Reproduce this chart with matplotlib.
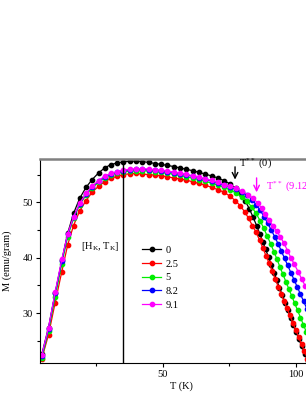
import matplotlib
matplotlib.use("Agg")
import matplotlib.pyplot as plt

plt.rcParams['font.family'] = ['Liberation Serif', 'DejaVu Serif']
plt.rcParams['mathtext.default'] = 'regular'

# temperatures shared by the low/flat part of every curve
t_low = [4.5, 7, 9.5, 12, 14.2, 16.4, 18.7, 21.1, 23.4, 25.8, 28.1, 30.4, 32.8, 35.1, 37.5,
         39.9, 42.2, 44.6, 47.0, 49.3, 51.7, 54.1, 56.4, 58.8, 61.2, 63.5, 65.9, 68.3, 70.6, 73.0]

# H = 0
m0_low = [22.6, 27.4, 33.6, 39.5, 44.4, 48.0, 50.7, 52.7, 54.1, 55.3, 56.2, 56.8, 57.1, 57.3, 57.4,
          57.45, 57.35, 57.2, 57.0, 56.85, 56.65, 56.45, 56.2, 55.95, 55.7, 55.4, 55.1, 54.75, 54.4, 53.9]
t0_high = [75.3, 77.4, 79.3, 81.0, 82.5, 83.9, 85.2, 86.4, 87.5, 88.6, 89.7, 90.7, 91.8, 92.8, 93.8,
           94.9, 95.9, 97.0, 98.0, 99.0, 100.1, 101.1, 102.2, 103.3, 104.4]
m0_high = [53.3, 52.5, 51.5, 50.2, 48.8, 47.3, 45.8, 44.3, 42.9, 41.5, 40.1, 38.7, 37.3, 35.9, 34.6,
           33.2, 31.9, 30.6, 29.2, 27.9, 26.6, 25.3, 24.0, 22.7, 21.4]

# H = 2.5
m1_low = [21.8, 26.1, 31.9, 37.5, 42.3, 45.8, 48.4, 50.3, 51.8, 52.9, 53.7, 54.3, 54.7, 55.0, 55.15,
          55.2, 55.1, 55.0, 54.9, 54.8, 54.6, 54.4, 54.2, 54.0, 53.7, 53.4, 53.1, 52.7, 52.3, 51.8]
t1_high = [75.2, 77.2, 79.0, 80.7, 82.2, 83.6, 85.0, 86.3, 87.5, 88.7, 89.9, 91.1, 92.2, 93.3, 94.4,
           95.5, 96.6, 97.7, 98.8, 99.9, 101.0, 102.1, 103.2, 104.3]
m1_high = [51.1, 50.3, 49.4, 48.3, 47.1, 45.8, 44.6, 43.2, 41.8, 40.4, 39.0, 37.6, 36.2, 34.8, 33.5,
           32.2, 30.9, 29.6, 28.3, 27.0, 25.7, 24.4, 23.1, 21.8]

# H = 5
m2_low = [21.9, 26.8, 32.9, 38.9, 43.8, 47.1, 49.6, 51.3, 52.6, 53.6, 54.4, 54.9, 55.3, 55.5, 55.65,
          55.7, 55.7, 55.65, 55.55, 55.4, 55.25, 55.05, 54.85, 54.6, 54.35, 54.1, 53.8, 53.45, 53.1, 52.7]
t2_high = [75.3, 77.5, 79.6, 81.5, 83.3, 85.0, 86.5, 87.9, 89.2, 90.5, 91.7, 92.9, 94.0, 95.1, 96.2,
           97.3, 98.4, 99.5, 100.6, 101.7, 102.8, 103.9, 105.0]
m2_high = [52.2, 51.7, 51.0, 50.2, 49.2, 48.0, 46.7, 45.3, 43.9, 42.5, 41.1, 39.7, 38.3, 37.0, 35.7,
           34.4, 33.1, 31.8, 30.5, 29.2, 27.9, 26.6, 25.3]

# H = 8.2
m3_low = [22.3, 27.2, 33.6, 39.4, 44.2, 47.3, 49.7, 51.5, 52.8, 53.8, 54.6, 55.1, 55.45, 55.7, 55.85,
          55.95, 55.95, 55.9, 55.8, 55.7, 55.55, 55.35, 55.15, 54.95, 54.7, 54.45, 54.15, 53.85, 53.5, 53.1]
t3_high = [75.3, 77.5, 79.6, 81.6, 83.4, 85.0, 86.5, 88.0, 89.4, 90.7, 92.0, 93.3, 94.5, 95.7, 96.9,
           98.1, 99.3, 100.5, 101.7, 102.9, 104.1, 105.3]
m3_high = [52.8, 52.4, 51.9, 51.3, 50.5, 49.6, 48.6, 47.4, 46.2, 45.0, 43.8, 42.5, 41.2, 39.9, 38.6,
           37.3, 36.0, 34.7, 33.4, 32.1, 30.8, 29.5]

# H = 9.1
m4_low = [22.5, 27.4, 33.8, 39.7, 44.3, 47.4, 49.8, 51.6, 52.9, 53.9, 54.7, 55.2, 55.55, 55.8, 55.95,
          56.05, 56.05, 56.0, 55.9, 55.8, 55.65, 55.45, 55.25, 55.05, 54.8, 54.55, 54.25, 53.95, 53.6, 53.2]
t4_high = [75.3, 77.6, 79.8, 81.9, 83.9, 85.6, 87.1, 88.5, 89.9, 91.3, 92.7, 94.1, 95.5, 96.8, 98.1,
           99.4, 100.8, 102.1, 103.5, 104.9]
m4_high = [52.9, 52.5, 52.0, 51.4, 50.7, 49.9, 48.9, 47.8, 46.8, 45.8, 44.8, 43.8, 42.6, 41.3, 40.0,
           38.8, 37.5, 36.2, 34.9, 33.6]

labels = ['0', '2.5', '5', '8.2', '9.1']
colors = ['black', '#ff0000', '#00ee00', '#0000ff', '#ff00ff']
series = [(t_low + t0_high, m0_low + m0_high),
          (t_low + t1_high, m1_low + m1_high),
          (t_low + t2_high, m2_low + m2_high),
          (t_low + t3_high, m3_low + m3_high),
          (t_low + t4_high, m4_low + m4_high)]

fig = plt.figure(figsize=(3.06, 3.96), dpi=100)
ax = fig.add_axes([0.1307, 0.0833, 0.9235, 0.515])

for (t, m), lab, c in zip(series, labels, colors):
    ax.plot(t, m, '-o', color=c, lw=0.9, ms=3.1, label=lab)

ax.axvline(35.1, color='black', lw=1.0)
ax.text(26.3, 42.1, '[H$_K$, T$_K$]', fontsize=7.5, ha='center', va='center')

ax.annotate('', xy=(77.1, 53.6), xytext=(77.1, 56.9),
            arrowprops=dict(arrowstyle='->', color='black', lw=1.0))
ax.text(78.6, 57.0, 'T$^{**}$ (0)', fontsize=7.5, va='center')
ax.annotate('', xy=(85.2, 51.3), xytext=(85.2, 54.9),
            arrowprops=dict(arrowstyle='->', color='#ff00ff', lw=1.0))
ax.text(88.7, 52.9, 'T$^{**}$ (9.12)', fontsize=7.5, va='center', color='#ff00ff')

ax.set_xlim(3.8, 110)
ax.set_ylim(21.0, 57.8)
ax.set_xticks([50, 100])
ax.set_xticks([25, 75], minor=True)
ax.set_yticks([30, 40, 50])
ax.set_yticks([25, 35, 45, 55], minor=True)
ax.tick_params(labelsize=7.5, length=3, width=0.8, pad=2)
ax.tick_params(which='minor', length=2, width=0.8)
ax.spines['top'].set_color('#808080')
ax.spines['top'].set_linewidth(1.8)
ax.set_xlabel('T (K)', fontsize=7.5, labelpad=2)
ax.set_ylabel('M (emu/gram)', fontsize=7.5, labelpad=8)

ax.legend(loc='upper left', bbox_to_anchor=(0.345, 0.595), frameon=False, fontsize=7.5,
          handlelength=1.9, handletextpad=0.4, labelspacing=0.42, borderaxespad=0)

fig.savefig('out.png', dpi=100)
